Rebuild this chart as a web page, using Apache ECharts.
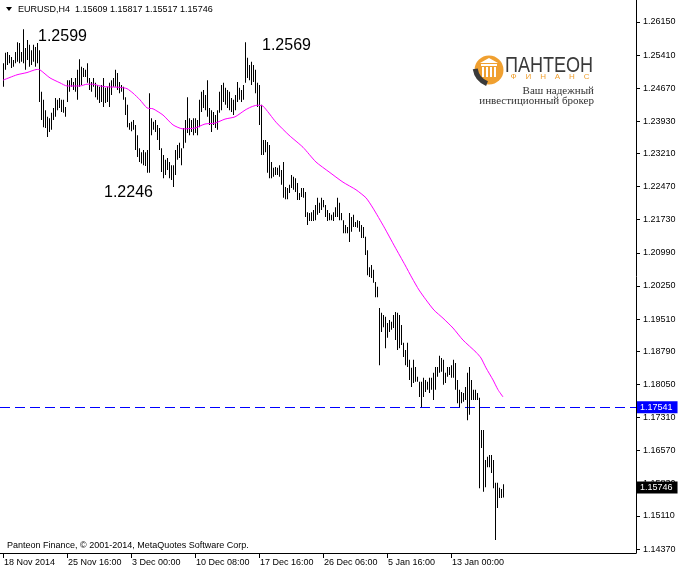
<!DOCTYPE html>
<html>
<head>
<meta charset="utf-8">
<script src="https://cdn.jsdelivr.net/npm/echarts@6/dist/echarts.min.js"></script>
<style>html,body{margin:0;padding:0;background:#fff}#c{width:680px;height:571px}</style>
</head>
<body>
<div id="c"></div>
<script>
// H4 bar highs / lows (bar index 0 = first visible bar)
const highs = [
1.2523,1.2546,1.2548,1.2541,1.2537,1.2530,1.2548,1.2570,1.2568,1.2548,
1.2599,1.2557,1.2575,1.2564,1.2552,1.2564,1.2559,1.2568,1.2552,1.2459,
1.2441,1.2418,1.2403,1.2400,1.2412,1.2423,1.2445,1.2441,1.2445,1.2441,
1.2441,1.2425,1.2485,1.2485,1.2490,1.2481,1.2490,1.2508,1.2532,1.2515,
1.2512,1.2508,1.2523,1.2490,1.2481,1.2490,1.2479,1.2474,1.2470,1.2474,
1.2490,1.2468,1.2470,1.2479,1.2485,1.2490,1.2508,1.2501,1.2481,1.2474,
1.2470,1.2447,1.2430,1.2389,1.2392,1.2396,1.2385,1.2362,1.2333,1.2324,
1.2329,1.2324,1.2329,1.2456,1.2400,1.2392,1.2396,1.2385,1.2378,1.2333,
1.2318,1.2307,1.2311,1.2302,1.2295,1.2295,1.2329,1.2340,1.2345,1.2333,
1.2378,1.2396,1.2447,1.2400,1.2396,1.2400,1.2400,1.2396,1.2441,1.2459,
1.2463,1.2452,1.2485,1.2423,1.2418,1.2414,1.2407,1.2418,1.2459,1.2474,
1.2479,1.2468,1.2463,1.2459,1.2445,1.2441,1.2452,1.2481,1.2468,1.2463,
1.2474,1.2570,1.2535,1.2519,1.2526,1.2519,1.2508,1.2479,1.2474,1.2430,
1.2351,1.2351,1.2347,1.2340,1.2302,1.2289,1.2291,1.2289,1.2295,1.2284,
1.2302,1.2246,1.2244,1.2251,1.2273,1.2269,1.2266,1.2255,1.2233,1.2244,
1.2244,1.2235,1.2190,1.2188,1.2190,1.2195,1.2206,1.2222,1.2211,1.2222,
1.2217,1.2206,1.2195,1.2188,1.2184,1.2190,1.2201,1.2222,1.2211,1.2188,
1.2172,1.2161,1.2157,1.2188,1.2179,1.2184,1.2168,1.2172,1.2170,1.2161,
1.2157,1.2135,1.2105,1.2067,1.2072,1.2061,1.2034,1.2023,1.1976,1.1965,
1.1960,1.1956,1.1942,1.1949,1.1945,1.1960,1.1967,1.1965,1.1960,1.1938,
1.1898,1.1882,1.1898,1.1860,1.1842,1.1860,1.1844,1.1822,1.1811,1.1811,
1.1820,1.1815,1.1811,1.1820,1.1820,1.1831,1.1844,1.1844,1.1869,1.1864,
1.1860,1.1831,1.1844,1.1844,1.1848,1.1860,1.1853,1.1815,1.1793,1.1788,
1.1786,1.1799,1.1831,1.1844,1.1815,1.1793,1.1793,1.1786,1.1775,1.1703,
1.1703,1.1636,1.1643,1.1647,1.1647,1.1636,1.1585,1.1585,1.1574,1.1571,1.1582
];
const lows = [
1.2470,1.2508,1.2519,1.2523,1.2512,1.2515,1.2523,1.2526,1.2523,1.2526,
1.2523,1.2508,1.2530,1.2515,1.2519,1.2526,1.2515,1.2523,1.2436,1.2396,
1.2380,1.2378,1.2358,1.2369,1.2374,1.2396,1.2403,1.2418,1.2423,1.2414,
1.2412,1.2403,1.2436,1.2459,1.2470,1.2463,1.2459,1.2441,1.2470,1.2474,
1.2492,1.2492,1.2479,1.2463,1.2459,1.2470,1.2447,1.2441,1.2434,1.2436,
1.2425,1.2434,1.2436,1.2425,1.2452,1.2470,1.2470,1.2463,1.2456,1.2459,
1.2441,1.2407,1.2380,1.2374,1.2371,1.2374,1.2329,1.2313,1.2302,1.2299,
1.2295,1.2293,1.2278,1.2278,1.2362,1.2374,1.2369,1.2351,1.2329,1.2280,
1.2266,1.2273,1.2284,1.2266,1.2262,1.2246,1.2273,1.2307,1.2311,1.2295,
1.2333,1.2345,1.2367,1.2362,1.2369,1.2362,1.2367,1.2362,1.2380,1.2414,
1.2423,1.2418,1.2403,1.2385,1.2369,1.2385,1.2378,1.2374,1.2412,1.2418,
1.2436,1.2430,1.2423,1.2418,1.2414,1.2407,1.2418,1.2436,1.2441,1.2436,
1.2441,1.2479,1.2490,1.2485,1.2474,1.2481,1.2456,1.2425,1.2385,1.2318,
1.2318,1.2324,1.2278,1.2266,1.2266,1.2269,1.2273,1.2273,1.2269,1.2251,
1.2222,1.2219,1.2219,1.2233,1.2244,1.2240,1.2235,1.2217,1.2217,1.2224,
1.2222,1.2179,1.2161,1.2170,1.2170,1.2170,1.2172,1.2184,1.2188,1.2195,
1.2201,1.2179,1.2170,1.2172,1.2172,1.2170,1.2179,1.2179,1.2172,1.2172,
1.2143,1.2143,1.2143,1.2123,1.2146,1.2157,1.2157,1.2155,1.2146,1.2132,
1.2132,1.2094,1.2049,1.2045,1.2043,1.2032,1.2000,1.2000,1.1848,1.1922,
1.1933,1.1886,1.1909,1.1922,1.1927,1.1931,1.1904,1.1882,1.1886,1.1893,
1.1866,1.1848,1.1844,1.1815,1.1799,1.1808,1.1811,1.1811,1.1777,1.1754,
1.1777,1.1788,1.1793,1.1786,1.1793,1.1770,1.1793,1.1822,1.1831,1.1833,
1.1804,1.1808,1.1822,1.1826,1.1820,1.1820,1.1793,1.1763,1.1754,1.1763,
1.1766,1.1770,1.1725,1.1737,1.1770,1.1770,1.1770,1.1770,1.1573,1.1663,
1.1565,1.1575,1.1620,1.1620,1.1607,1.1573,1.1457,1.1529,1.1551,1.1551,1.1552
];
// moving average (magenta) read at bar positions
const maIdx = [0,7,12,17,18.5,23.5,28.5,32,38.5,42,45,48.5,52,58.5,62,65,68.5,72,75,80,85,90,96,101,106,111,116,121,124,127,130,136.5,143,150,156.5,163,170,176.5,181.5,185,190.5,196,201,204.5,208,211.5,215.5,220,225,230,236.5,239,241.5,245,247.5,250];
const maVal = [1.2485,1.2497,1.2502,1.2509,1.2508,1.2490,1.2479,1.2472,1.2472,1.2476,1.2476,1.2472,1.2470,1.2469,1.2466,1.2456,1.2441,1.2423,1.2421,1.2407,1.2385,1.2376,1.2378,1.2387,1.2389,1.2398,1.2403,1.2418,1.2425,1.2429,1.2427,1.2391,1.2362,1.2335,1.2302,1.2280,1.2257,1.2240,1.2222,1.2199,1.2157,1.2112,1.2072,1.2043,1.2016,1.1994,1.1971,1.1953,1.1931,1.1904,1.1877,1.1864,1.1842,1.1815,1.1793,1.1777];
// axis ticks
const xTickIdx = [0,32,64,96,128,160,192,224];
const xTickLabels = ['18 Nov 2014','25 Nov 16:00','3 Dec 00:00','10 Dec 08:00','17 Dec 16:00','26 Dec 06:00','5 Jan 16:00','13 Jan 00:00'];
const yTickVals = [1.26150,1.25410,1.24670,1.23930,1.23210,1.22470,1.21730,1.20990,1.20250,1.19510,1.18790,1.18050,1.17310,1.16570,1.15830,1.15110,1.14370];
const supportLevel = 1.17541;
const lastPrice = 1.15746;
const headerText = 'EURUSD,H4  1.15609 1.15817 1.15517 1.15746';

const X_MIN = -1.5, X_MAX = 316.5;
const F = 'Liberation Sans, Arial, sans-serif';
const chart = echarts.init(document.getElementById('c'), null, {renderer:'canvas'});
const barData = highs.map((h,i)=>[i,h,lows[i]]);
const maData = maIdx.map((x,i)=>[x,maVal[i]]);

const priceTag = (v,bg)=>({show:true,position:'end',distance:1,formatter:v.toFixed(5),color:'#fff',backgroundColor:bg,padding:[2,5,1,3],fontSize:9,fontFamily:F});

const option = {
  animation:false,
  backgroundColor:'#ffffff',
  grid:{left:0,right:44,top:0,bottom:18,show:false},
  xAxis:{
    type:'value', min:X_MIN, max:X_MAX,
    axisLine:{show:true,onZero:false,lineStyle:{color:'#000',width:1}},
    axisTick:{show:true,customValues:xTickIdx,length:5,lineStyle:{color:'#000'}},
    axisLabel:{customValues:xTickIdx,formatter:v=>xTickLabels[xTickIdx.indexOf(Math.round(v))]||'',align:'left',margin:5,fontSize:9,color:'#000',fontFamily:F,padding:[0,0,0,1]},
    splitLine:{show:false}
  },
  yAxis:{
    type:'value', position:'right', min:1.142814, max:1.266417, scale:true,
    axisLine:{show:true,onZero:false,lineStyle:{color:'#000',width:1}},
    axisTick:{show:true,customValues:yTickVals,length:4,lineStyle:{color:'#000'}},
    axisLabel:{customValues:yTickVals,formatter:v=>v.toFixed(5),margin:7,fontSize:9,color:'#000',fontFamily:F},
    splitLine:{show:false}
  },
  series:[
    {
      type:'custom', name:'Support', data:[[0,supportLevel]], z:1, clip:true,
      encode:{x:0,y:1},
      renderItem:function(params,api){
        const p = api.coord([api.value(0),api.value(1)]);
        const cs = params.coordSys;
        const y = Math.floor(p[1])+0.5;
        return {type:'line',shape:{x1:cs.x,y1:y,x2:cs.x+cs.width,y2:y},style:{stroke:'#0000ff',lineWidth:1,lineDash:[10,5]}};
      }
    },
    {
      type:'custom', name:'EURUSD', data:barData, clip:true, z:2,
      encode:{x:0,y:[1,2]},
      renderItem:function(params,api){
        const p1 = api.coord([api.value(0),api.value(1)]);
        const p2 = api.coord([api.value(0),api.value(2)]);
        const x = Math.round(p1[0]);
        return {type:'rect',shape:{x:x,y:p1[1],width:1,height:Math.max(1,p2[1]-p1[1])},style:{fill:'#000'}};
      }
    },
    {
      type:'line', name:'MA', data:maData, showSymbol:false, symbol:'none',
      lineStyle:{color:'#ff00ff',width:1}, smooth:0.2, z:3,
      markLine:{
        silent:true, symbol:['none','none'], animation:false, precision:5,
        data:[
          {yAxis:supportLevel, lineStyle:{color:'rgba(0,0,0,0)',width:1}, label:priceTag(supportLevel,'#0000ff')},
          {yAxis:lastPrice, lineStyle:{color:'rgba(0,0,0,0)',width:1}, label:priceTag(lastPrice,'#000000')}
        ]
      }
    }
  ],
  graphic:[
    {type:'polygon',shape:{points:[[6,7],[12,7],[9,11]]},style:{fill:'#000'}},
    {type:'text',x:18,y:10,style:{text:headerText,font:'9px '+F,fill:'#000',textVerticalAlign:'middle'}},
    {type:'text',x:38,y:37,style:{text:'1.2599',font:'16px '+F,fill:'#000',textVerticalAlign:'middle'}},
    {type:'text',x:104,y:193,style:{text:'1.2246',font:'16px '+F,fill:'#000',textVerticalAlign:'middle'}},
    {type:'text',x:262,y:46,style:{text:'1.2569',font:'16px '+F,fill:'#000',textVerticalAlign:'middle'}},
    {type:'text',x:7,y:546,style:{text:'Panteon Finance, © 2001-2014, MetaQuotes Software Corp.',font:'9px '+F,fill:'#000',textVerticalAlign:'middle'}},
    // logo
    {type:'group',children:[
      {type:'circle',shape:{cx:489,cy:70,r:14.5},style:{fill:'#f0a030'}},
      {type:'polygon',shape:{points:[[480,63],[489,58],[498,63]]},style:{fill:'#fff'}},
      {type:'rect',shape:{x:481,y:64,width:16,height:2},style:{fill:'#fff'}},
      {type:'rect',shape:{x:482,y:67,width:2,height:10},style:{fill:'#fff'}},
      {type:'rect',shape:{x:486,y:67,width:2,height:10},style:{fill:'#fff'}},
      {type:'rect',shape:{x:490,y:67,width:2,height:10},style:{fill:'#fff'}},
      {type:'rect',shape:{x:494,y:67,width:2,height:10},style:{fill:'#fff'}},
      {type:'arc',shape:{cx:494,cy:66,r:19,startAngle:Math.PI*0.62,endAngle:Math.PI*0.95},style:{stroke:'#3a3a3a',lineWidth:5,fill:null}},
      {type:'text',x:505,y:55,scaleX:0.82,style:{text:'ПАНТЕОН',font:'22px '+F,fill:'#3a3a3a',textVerticalAlign:'top'}},
      {type:'text',x:550,y:77,style:{text:'Ф    И    Н    А    Н    С',font:'8px '+F,fill:'#f0a030',textAlign:'center',textVerticalAlign:'middle'}},
      {type:'text',x:594,y:91,style:{text:'Ваш надежный',font:'11px Liberation Serif, serif',fill:'#333',textAlign:'right',textVerticalAlign:'middle'}},
      {type:'text',x:594,y:101,style:{text:'инвестиционный брокер',font:'11px Liberation Serif, serif',fill:'#333',textAlign:'right',textVerticalAlign:'middle'}}
    ]}
  ]
};
chart.setOption(option);
</script>
</body>
</html>
